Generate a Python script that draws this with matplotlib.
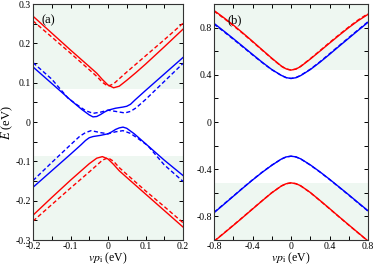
import matplotlib
matplotlib.use("Agg")
import matplotlib.pyplot as plt
from matplotlib.ticker import MultipleLocator

plt.rcParams['font.family'] = ['Liberation Serif', 'DejaVu Serif']
plt.rcParams['mathtext.fontset'] = 'stix'

# ---------------- panel (a) data ----------------
a_rsu_x = [-0.2, -0.15, -0.1, -0.05, -0.03, -0.015, 0.0, 0.015, 0.03, 0.05, 0.075, 0.1, 0.15, 0.2]
a_rsu_y = [0.269, 0.226, 0.183, 0.141, 0.124, 0.108, 0.094, 0.087, 0.091, 0.106, 0.126, 0.147, 0.191, 0.236]
a_rdu_x = [-0.2, -0.15, -0.1, -0.05, -0.03, -0.015, 0.0, 0.015, 0.03, 0.05, 0.1, 0.15, 0.2]
a_rdu_y = [0.257, 0.216, 0.175, 0.133, 0.116, 0.101, 0.091, 0.097, 0.110, 0.127, 0.168, 0.209, 0.251]

a_rsl_x = [-0.2, -0.15, -0.1, -0.075, -0.05, -0.03, -0.015, 0.0, 0.015, 0.03, 0.05, 0.1, 0.15, 0.2]
a_rsl_y = [-0.237, -0.192, -0.148, -0.127, -0.106, -0.092, -0.088, -0.094, -0.108, -0.124, -0.141, -0.183, -0.225, -0.267]
a_rdl_x = [-0.2, -0.15, -0.1, -0.05, -0.03, -0.015, 0.0, 0.015, 0.03, 0.05, 0.1, 0.15, 0.2]
a_rdl_y = [-0.252, -0.210, -0.168, -0.127, -0.110, -0.097, -0.091, -0.100, -0.116, -0.133, -0.175, -0.215, -0.256]

a_bsu_x = [-0.2, -0.15, -0.1, -0.07, -0.05, -0.04, -0.03, -0.02, -0.01, 0.0, 0.02, 0.04, 0.05, 0.06, 0.072, 0.1, 0.15, 0.2]
a_bsu_y = [0.140, 0.098, 0.056, 0.032, 0.018, 0.013, 0.014, 0.019, 0.025, 0.030, 0.035, 0.038, 0.040, 0.045, 0.056, 0.080, 0.122, 0.164]
a_bdu_x = [-0.2, -0.15, -0.106, -0.08, -0.06, -0.04, -0.02, 0.0, 0.02, 0.045, 0.06, 0.075, 0.1, 0.15, 0.2]
a_bdu_y = [0.151, 0.109, 0.060, 0.042, 0.029, 0.022, 0.025, 0.030, 0.027, 0.023, 0.027, 0.036, 0.057, 0.103, 0.149]

a_bsl_x = [-0.2, -0.15, -0.1, -0.072, -0.06, -0.05, -0.04, -0.02, 0.0, 0.01, 0.02, 0.03, 0.04, 0.05, 0.07, 0.1, 0.15, 0.2]
a_bsl_y = [-0.166, -0.124, -0.082, -0.058, -0.047, -0.040, -0.037, -0.034, -0.030, -0.025, -0.019, -0.015, -0.013, -0.016, -0.030, -0.055, -0.097, -0.136]
a_bdl_x = [-0.2, -0.15, -0.1, -0.075, -0.06, -0.045, -0.02, 0.0, 0.02, 0.04, 0.06, 0.08, 0.106, 0.15, 0.2]
a_bdl_y = [-0.149, -0.103, -0.058, -0.036, -0.027, -0.022, -0.027, -0.030, -0.025, -0.022, -0.029, -0.042, -0.060, -0.109, -0.151]

a_shade_top = 0.085
a_shade_bot = -0.087

# ---------------- panel (b) data ----------------
b_x = [-0.8, -0.7, -0.6, -0.5, -0.4, -0.3, -0.2, -0.1, -0.05, 0.0, 0.05, 0.1, 0.2, 0.3, 0.4, 0.5, 0.6, 0.7, 0.8]
b_rsu = [0.945, 0.885, 0.822, 0.754, 0.684, 0.612, 0.541, 0.474, 0.450, 0.440, 0.448, 0.470, 0.533, 0.600, 0.668, 0.735, 0.800, 0.860, 0.912]
b_rdu = [0.940, 0.880, 0.817, 0.750, 0.680, 0.609, 0.538, 0.472, 0.449, 0.440, 0.449, 0.472, 0.536, 0.604, 0.673, 0.740, 0.805, 0.866, 0.918]
b_bsu = [0.836, 0.772, 0.707, 0.640, 0.573, 0.507, 0.445, 0.395, 0.376, 0.369, 0.375, 0.393, 0.444, 0.506, 0.573, 0.642, 0.710, 0.778, 0.845]
b_bdu = [0.830, 0.767, 0.702, 0.636, 0.569, 0.504, 0.443, 0.394, 0.376, 0.369, 0.376, 0.395, 0.447, 0.510, 0.578, 0.647, 0.715, 0.783, 0.850]
b_bsl = [-0.769, -0.700, -0.630, -0.560, -0.492, -0.427, -0.367, -0.314, -0.296, -0.290, -0.295, -0.312, -0.363, -0.422, -0.485, -0.551, -0.617, -0.685, -0.752]
b_bdl = [-0.766, -0.697, -0.628, -0.558, -0.490, -0.425, -0.366, -0.314, -0.296, -0.290, -0.296, -0.313, -0.365, -0.424, -0.487, -0.553, -0.620, -0.688, -0.755]
b_rsl = [-1.012, -0.945, -0.877, -0.808, -0.738, -0.668, -0.600, -0.542, -0.523, -0.516, -0.522, -0.540, -0.597, -0.664, -0.733, -0.803, -0.872, -0.940, -1.008]
b_rdl = [-1.010, -0.943, -0.875, -0.806, -0.736, -0.667, -0.599, -0.542, -0.523, -0.516, -0.523, -0.541, -0.598, -0.666, -0.735, -0.805, -0.874, -0.942, -1.010]

b_shade_top = 0.438
b_shade_bot = -0.516

# ticks
a_xticks = [-0.2, -0.1, 0.0, 0.1, 0.2]
a_xlabels = ['-0.2', '-0.1', '0', '0.1', '0.2']
a_yticks = [-0.3, -0.2, -0.1, 0.0, 0.1, 0.2, 0.3]
a_ylabels = ['-0.3', '-0.2', '-0.1', '0', '0.1', '0.2', '0.3']
b_xticks = [-0.8, -0.4, 0.0, 0.4, 0.8]
b_xlabels = ['-0.8', '-0.4', '0', '0.4', '0.8']
b_yticks = [-0.8, -0.4, 0.0, 0.4, 0.8]
b_ylabels = ['-0.8', '-0.4', '0', '0.4', '0.8']

RED = '#ff0000'
BLUE = '#0000ff'
SHADE = '#eef7f1'
DASH = (0, (3.0, 1.8))

fig = plt.figure(figsize=(3.74, 2.65), dpi=100)
axa = fig.add_axes([33/374, 25/265, 150/374, 236/265])
axb = fig.add_axes([214/374, 25/265, 154/374, 236/265])

def style(ax, xminor, yminor):
    ax.tick_params(which='both', direction='in', top=True, right=True,
                   length=3.2, width=0.7, labelsize=7, pad=1.5)
    ax.xaxis.set_minor_locator(MultipleLocator(xminor))
    ax.yaxis.set_minor_locator(MultipleLocator(yminor))
    for s in ax.spines.values():
        s.set_linewidth(0.8)
        s.set_color('#333333')

# panel (a)
axa.axhspan(a_shade_top, 0.3, color=SHADE, lw=0, zorder=0)
axa.axhspan(-0.3, a_shade_bot, color=SHADE, lw=0, zorder=0)
lw = 1.0
axa.plot(a_rsu_x, a_rsu_y, color=RED, lw=lw)
axa.plot(a_rdu_x, a_rdu_y, color=RED, lw=lw, ls=DASH)
axa.plot(a_rsl_x, a_rsl_y, color=RED, lw=lw)
axa.plot(a_rdl_x, a_rdl_y, color=RED, lw=lw, ls=DASH)
axa.plot(a_bsu_x, a_bsu_y, color=BLUE, lw=lw)
axa.plot(a_bdu_x, a_bdu_y, color=BLUE, lw=lw, ls=DASH)
axa.plot(a_bsl_x, a_bsl_y, color=BLUE, lw=lw)
axa.plot(a_bdl_x, a_bdl_y, color=BLUE, lw=lw, ls=DASH)
axa.set_xlim(-0.2, 0.2)
axa.set_ylim(-0.3, 0.3)
axa.set_xticks(a_xticks)
axa.set_xticklabels(a_xlabels)
axa.set_yticks(a_yticks)
axa.set_yticklabels(a_ylabels)
style(axa, 0.05, 0.05)
axa.set_xlabel(r'$vp_{\mathrm{i}}$ (eV)', fontsize=8.5, labelpad=0)
axa.set_ylabel(r'$E$ (eV)', fontsize=9, labelpad=0)
axa.text(0.06, 0.955, '(a)', transform=axa.transAxes, fontsize=9, va='top', ha='left')

# panel (b)
axb.axhspan(b_shade_top, 1.0, color=SHADE, lw=0, zorder=0)
axb.axhspan(-1.0, b_shade_bot, color=SHADE, lw=0, zorder=0)
axb.plot(b_x, b_rsu, color=RED, lw=lw)
axb.plot(b_x, b_rdu, color=RED, lw=lw, ls=DASH)
axb.plot(b_x, b_bsu, color=BLUE, lw=lw)
axb.plot(b_x, b_bdu, color=BLUE, lw=lw, ls=DASH)
axb.plot(b_x, b_bsl, color=BLUE, lw=lw)
axb.plot(b_x, b_bdl, color=BLUE, lw=lw, ls=DASH)
axb.plot(b_x, b_rsl, color=RED, lw=lw)
axb.plot(b_x, b_rdl, color=RED, lw=lw, ls=DASH)
axb.set_xlim(-0.8, 0.8)
axb.set_ylim(-1.0, 1.0)
axb.set_xticks(b_xticks)
axb.set_xticklabels(b_xlabels)
axb.set_yticks(b_yticks)
axb.set_yticklabels(b_ylabels)
style(axb, 0.2, 0.2)
axb.set_xlabel(r'$vp_{\mathrm{i}}$ (eV)', fontsize=8.5, labelpad=0)
axb.text(0.085, 0.955, '(b)', transform=axb.transAxes, fontsize=9, va='top', ha='left')

fig.savefig('out.png', dpi=100)
